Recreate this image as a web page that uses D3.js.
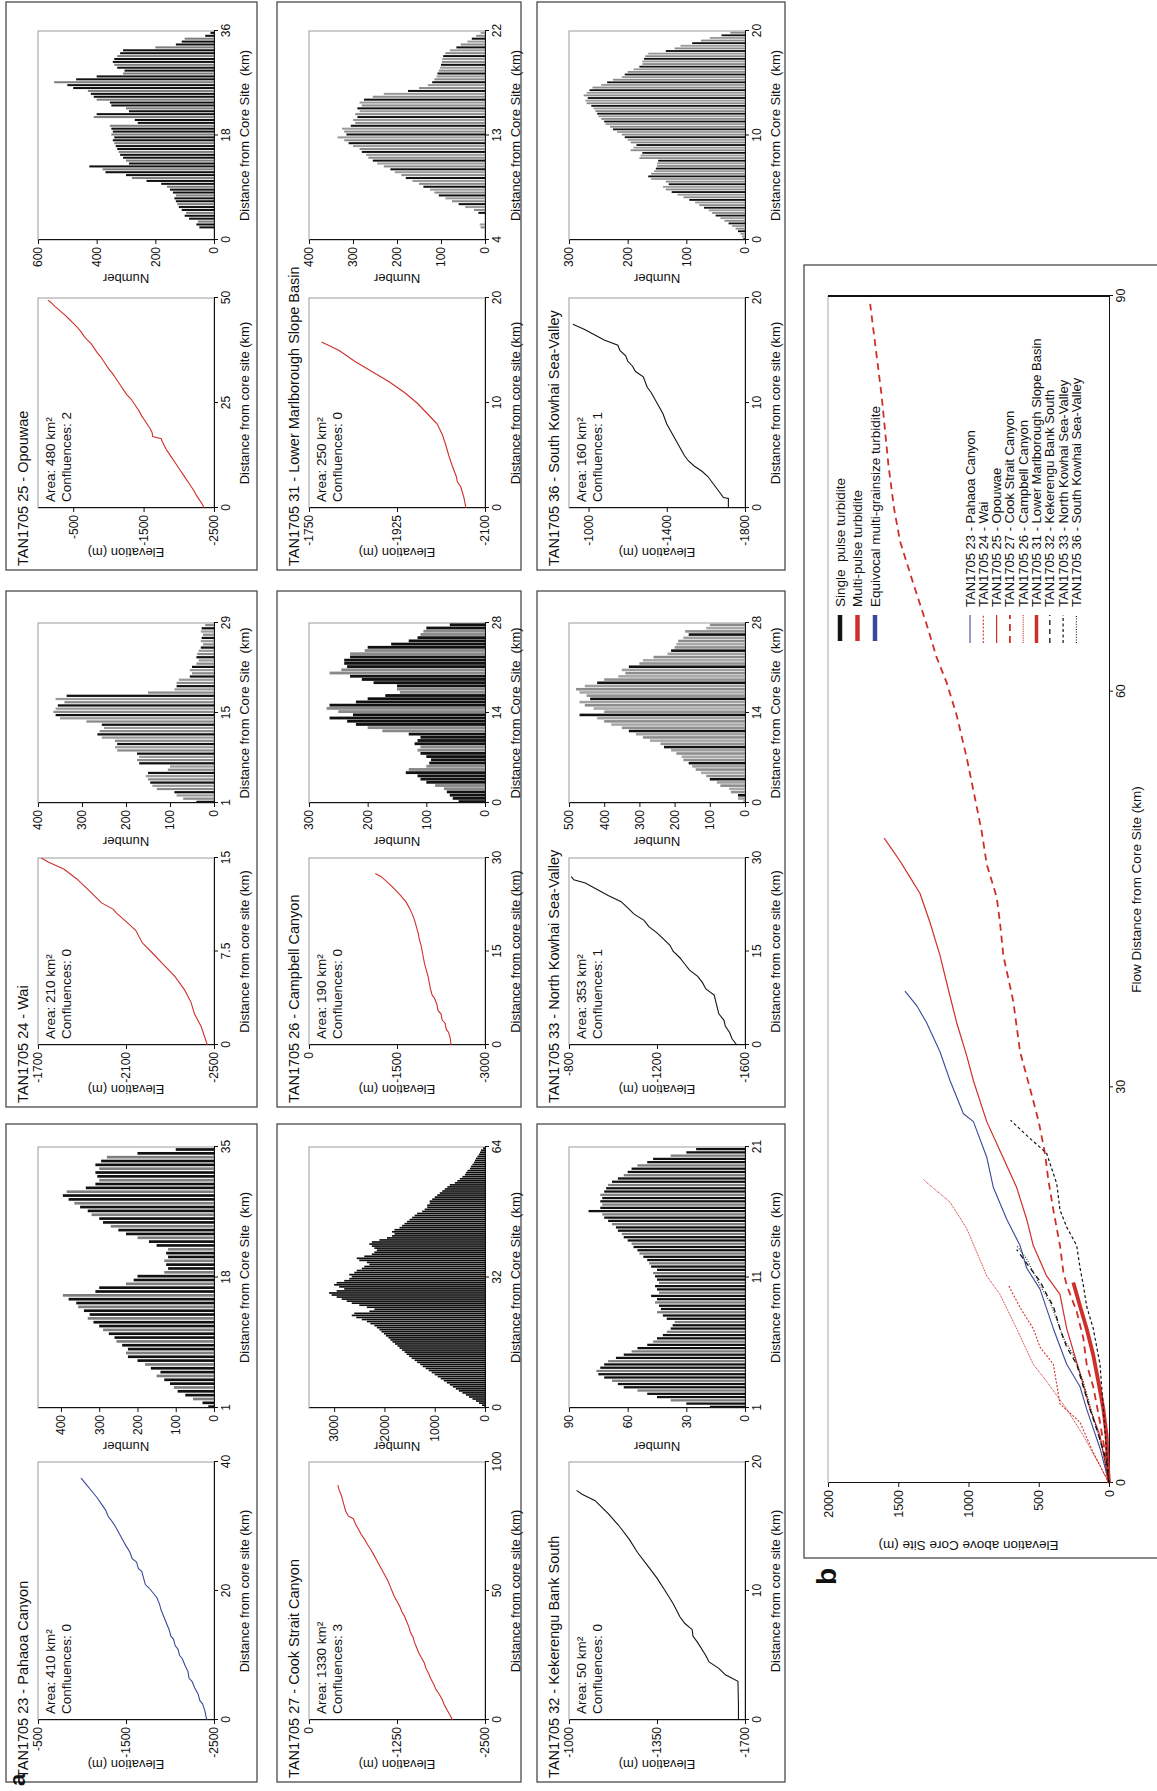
<!DOCTYPE html>
<html><head><meta charset="utf-8">
<script src="https://cdn.jsdelivr.net/npm/d3@7"></script>
<style>
html,body{margin:0;padding:0;background:#fff;}
svg{display:block;}
</style></head><body>
<svg id="fig" width="1157" height="1791"></svg>
<script>
// ---------------- panel a: long profiles [distance km, elevation m] ----------------
const pahaoaProfile = [[0,-2420],[0.5,-2410],[1.5,-2395],[2.5,-2370],[3,-2340],[4,-2320],[5,-2280],[6,-2250],[6.5,-2215],[7.5,-2205],[8.5,-2170],[9.5,-2140],[10,-2110],[11,-2090],[11.5,-2060],[12.5,-2040],[13,-2010],[14,-1990],[15,-1960],[16,-1930],[17,-1900],[18,-1880],[19,-1850],[19.5,-1820],[20.5,-1760],[21,-1720],[22,-1700],[23,-1680],[23.5,-1640],[24.5,-1620],[25,-1570],[26,-1545],[27,-1500],[28,-1460],[29,-1420],[30,-1380],[31,-1330],[31.5,-1300],[32.5,-1270],[33.5,-1220],[34.5,-1170],[35.5,-1110],[36.5,-1050],[37.5,-990]];
const waiProfile = [[0,-2470],[1.5,-2441],[2.5,-2411],[3.4,-2396],[4.4,-2367],[5.5,-2322],[6.3,-2278],[7.4,-2219],[8.2,-2174],[9.2,-2144],[9.8,-2107],[10.6,-2056],[10.9,-2041],[11.4,-1989],[12.3,-1937],[13.3,-1878],[14.1,-1819],[14.7,-1744],[15,-1715]];
const opouwaeProfile = [[0,-2360],[1,-2330],[2,-2290],[3,-2250],[4,-2220],[5,-2180],[6,-2140],[7,-2100],[8,-2060],[9,-2020],[10,-1980],[11,-1940],[12,-1900],[13,-1860],[14,-1820],[15,-1790],[16,-1760],[16.5,-1750],[17,-1630],[18,-1620],[19,-1590],[20,-1550],[21,-1510],[22,-1470],[23,-1440],[24,-1400],[25,-1360],[26,-1320],[27,-1260],[28,-1220],[29,-1180],[30,-1140],[31,-1100],[32,-1060],[33,-1010],[34,-970],[35,-930],[36,-890],[37,-840],[38,-800],[39,-760],[40,-700],[41,-650],[42,-610],[43,-560],[44,-500],[45,-440],[46,-380],[47,-310],[48,-240],[49,-180],[49.5,-140]];
const cookProfile = [[0,-2040],[2,-2000],[4,-1960],[6,-1920],[8,-1890],[10,-1850],[12,-1800],[14,-1770],[16,-1730],[18,-1700],[20,-1660],[22,-1640],[24,-1600],[26,-1560],[28,-1530],[30,-1500],[32,-1480],[34,-1440],[36,-1420],[38,-1390],[40,-1360],[42,-1320],[44,-1290],[46,-1250],[48,-1210],[50,-1180],[52,-1150],[54,-1120],[56,-1080],[58,-1040],[60,-1000],[62,-960],[64,-920],[66,-880],[68,-830],[70,-790],[72,-740],[74,-700],[76,-660],[78,-630],[79,-560],[81,-520],[83,-500],[85,-480],[87,-460],[89,-430],[91,-410]];
const campbellProfile = [[0,-2420],[1,-2410],[2,-2380],[2.5,-2340],[3.5,-2320],[4,-2270],[5,-2250],[5.5,-2200],[6.5,-2180],[7.5,-2140],[8,-2100],[9,-2070],[10,-2050],[11,-2030],[12,-2000],[13,-1970],[14,-1950],[15,-1930],[16,-1910],[17,-1880],[18,-1860],[19,-1830],[20,-1800],[21,-1760],[22,-1710],[23,-1650],[24,-1560],[25,-1460],[26,-1350],[27,-1230],[27.5,-1130]];
const lowerMarlProfile = [[0,-2062],[1,-2058],[2,-2052],[2.5,-2045],[3,-2043],[4,-2035],[5,-2028],[6,-2022],[7,-2015],[8,-2005],[8.5,-1995],[9,-1985],[10,-1965],[11,-1940],[12,-1910],[13,-1875],[14,-1840],[15,-1810],[15.8,-1775]];
const kekerenguProfile = [[0,-1674],[1,-1674],[2,-1673],[3,-1672],[3.5,-1622],[4,-1596],[4.5,-1557],[5,-1544],[6,-1512],[6.5,-1493],[7,-1490],[7.5,-1460],[8,-1441],[9,-1415],[10,-1383],[11,-1350],[12,-1311],[13,-1272],[14,-1240],[15,-1201],[16,-1156],[17,-1104],[17.5,-1052],[17.8,-1030]];
const northKowhaiProfile = [[0,-1563],[1,-1541],[2,-1530],[3,-1511],[4,-1504],[5,-1481],[6,-1474],[7,-1467],[8,-1460],[9,-1422],[10,-1407],[11,-1385],[12,-1348],[13,-1326],[14,-1304],[15,-1274],[16,-1259],[17,-1230],[18,-1200],[19,-1163],[20,-1141],[21,-1096],[22,-1067],[23,-1037],[24,-978],[25,-926],[26,-874],[26.5,-822],[27,-810]];
const southKowhaiProfile = [[0,-1715],[0.9,-1715],[1,-1690],[2,-1650],[3,-1610],[3.5,-1580],[4,-1540],[4.5,-1510],[5,-1490],[6,-1460],[6.5,-1445],[7,-1430],[8,-1400],[9,-1380],[10,-1350],[11,-1320],[11.5,-1300],[12,-1290],[12.5,-1280],[13,-1240],[13.5,-1225],[14,-1200],[14.5,-1190],[15,-1160],[15.5,-1150],[16,-1080],[16.5,-1030],[17,-980],[17.5,-920]];

// ---------------- panel a: histogram counts per distance bin ----------------
const pahaoaCounts = [15,30,55,75,95,105,115,130,150,140,165,180,200,225,230,225,240,255,260,275,290,300,315,330,325,340,355,360,380,395,310,300,230,210,200,130,120,125,130,120,125,120,150,170,200,230,250,270,290,300,320,330,350,365,380,395,385,335,310,300,305,310,300,310,295,280,200,100];
const waiCounts = [40,70,85,90,130,140,145,150,155,150,105,100,170,175,170,175,220,225,220,225,255,265,260,250,255,290,350,360,365,360,355,340,360,335,150,90,85,85,80,55,50,55,50,40,35,40,38,35,30,25,30,28,25,30,28,20];
const opouwaeCounts = [50,60,55,85,100,95,110,120,125,130,135,130,140,150,160,180,230,280,300,370,380,425,290,300,310,320,325,330,335,340,345,340,350,345,350,355,260,270,410,400,290,300,350,355,400,410,420,430,480,500,545,470,400,310,305,330,340,345,340,330,320,310,200,130,110,100,30,12];
const cookCounts = [20,60,120,180,250,320,380,450,520,580,640,700,760,820,880,940,1000,1060,1120,1180,
  1240,1290,1350,1400,1460,1510,1560,1600,1650,1700,1740,1790,1840,1880,1920,1970,2010,2060,2100,2150,
  2200,2280,2350,2450,2560,2650,2600,2300,2200,2350,2500,2650,2750,2850,2950,3050,3100,2950,2800,2900,
  3000,2950,2800,2700,2650,2700,2600,2550,2450,2400,2300,2350,2500,2550,2400,2250,2200,2150,2200,2250,
  2300,2250,2100,1950,1850,1800,1850,1800,1700,1650,1600,1550,1500,1450,1400,1350,1250,1200,1150,1150,
  1100,1100,1050,1000,950,900,850,800,750,700,600,550,500,450,400,380,350,300,280,250,
  220,200,180,150,120,100,80,40];
const campbellCounts = [45,55,60,65,70,85,100,110,115,135,130,100,95,92,100,110,115,110,120,115,110,130,175,200,220,235,265,225,250,270,265,220,200,170,145,150,150,190,210,230,265,245,235,240,240,230,230,205,200,160,130,115,110,105,100,60];
const lowerMarlCounts = [0,0,0,0, 10,12,0,0, 0,15,25,45, 60,75,90,105, 115,125,140,150, 165,180,190,205, 215,230,245,255, 265,270,280,285, 300,310,320,335, 315,320,325,305, 295,300,290,295, 285,290,280,285, 275,255,230,175, 150,130,120,115, 110,108,105,102, 100,98,97,95, 90,80,65,55, 40,30,20,10];
const kekerenguCounts = [18,30,38,45, 50,55,62,65, 68,72,75,76, 74,72,70,66, 62,58,55,50, 47,45,42,40, 38,37,36,40, 42,45,43,44, 46,45,48,44, 45,46,44,45, 46,47,45,48, 49,50,52,54, 55,57,58,60, 62,63,65,66, 68,70,72,73, 80,74,73,74, 73,74,72,71, 70,68,65,62, 60,58,55,50, 47,38,30,25];
const northKowhaiCounts = [5,20,20,40,45,70,80,100,110,125,140,150,160,175,180,195,210,230,240,270,290,310,330,350,380,400,420,470,400,430,455,470,440,450,470,480,455,420,400,360,340,350,330,300,290,260,220,210,200,195,190,175,160,170,110,100];
const southKowhaiCounts = [3,5,8,12, 16,22,28,35, 42,50,56,62, 70,78,85,95, 105,115,125,135, 140,130,135,160, 165,160,155,152, 150,150,148,180, 178,175,195,190, 185,195,200,205, 210,218,225,230, 238,240,245,250, 252,255,258,262, 270,272,268,275, 270,265,260,245, 235,225,210,205, 200,190,180,175, 175,172,170,165, 135,120,110,90, 75,60,40,25];

// ---------------- panel b: elevation above core site [flow distance km, m] ----------------
const pahaoaFlow = [[0,0],[2.5,60],[5.6,159],[7.3,206],[9,301],[11.7,396],[14.7,491],[16.3,586],[18,633],[20,728],[22.4,823],[24.7,870],[27.4,965],[28,1036],[30.5,1131],[32.7,1203],[34.9,1298],[36.2,1369],[37.3,1452]];
const waiFlow = [[0,0],[2.3,112],[4.6,206],[6,349],[9,396],[10.3,491],[11.7,539],[13.3,633],[15,716]];
const opouwaeFlow = [[0,0],[3.6,64],[5.6,135],[8.3,206],[11.7,301],[14.3,349],[15.7,444],[18,539],[20,586],[22.4,657],[25.2,776],[27.4,870],[30.5,965],[32.4,1013],[34.9,1084],[37.4,1143],[40,1203],[42.5,1274],[44.7,1345],[46,1420],[47.2,1490],[48.9,1600]];
const cookFlow = [[0,0],[2.3,28],[4.6,64],[7.3,112],[9,159],[11,183],[13,230],[15,301],[16,325],[18,349],[20.7,396],[23,432],[25,456],[27.4,500],[29.9,562],[32.7,633],[36.5,681],[40,752],[42.5,776],[44.4,799],[46.9,870],[49.4,906],[52.5,965],[55,1013],[58.2,1084],[60.7,1156],[62.6,1227],[65.1,1298],[68.2,1393],[71.4,1487],[73.9,1530],[77.2,1570],[82.6,1620],[86,1660],[89.4,1700]];
const campbellFlow = [[0,0],[1.3,64],[3.6,183],[5.6,301],[7.7,444],[9,539],[11.7,657],[14.3,776],[15.7,870],[19.3,1013],[21.3,1132],[23,1321]];
const lowerMarlFlow = [[0,0],[1.6,10],[3.6,17],[5.6,40],[7.7,76],[9.7,112],[11.7,159],[13.4,206],[15.2,254]];
const kekerenguFlow = [[0,0],[1.6,17],[3.3,64],[5.6,135],[7.3,183],[9,230],[10.3,301],[11.7,349],[13.4,396],[14.3,444],[15.3,491],[16.3,562],[17,610],[17.7,657]];
const northKowhaiFlow = [[0,0],[2.3,17],[5.6,40],[9,64],[11.7,112],[13.4,159],[15,183],[16.3,206],[18,230],[19.4,301],[20.7,349],[22.7,372],[25,444],[26.3,580],[27.5,700]];
const southKowhaiFlow = [[0,0],[2.3,40],[5,112],[7.7,183],[9.7,254],[11,325],[12.4,372],[13.7,420],[15,491],[16,539],[17,586],[18,657]];

const bXTicks = [0, 30, 60, 90];
const bYTicks = [0, 500, 1000, 1500, 2000];
const typeLabels = ["Single  pulse turbidite", "Multi-pulse turbidite", "Equivocal multi-grainsize turbidite"];

// ---------------- styling ----------------
const FONT = '"Liberation Sans", Arial, sans-serif';
const BLUE = "#3b4899", RED = "#cf2f2b", BLACK = "#141414";
const typeColors = [BLACK, RED, BLUE];
const TONES_BLACK = ["#0d0d0d"];
const TONES_DARK = ["#111", "#111", "#7e7e7e"];
const TONES_MIX = ["#111", "#8a8a8a", "#9a9a9a"];
const TONES_GREY = ["#8c8c8c", "#a0a0a0", "#111", "#909090", "#a8a8a8"];

// landscape layout: rows are ly ranges, cols give lx ranges of the box, profile and histogram frames
const rows = [[6, 257], [277, 521], [537, 785]];
const cols = [
  {box: [9, 667], elev: [71, 329], hist: [383, 644]},
  {box: [684, 1200], elev: [746, 933], hist: [988, 1168]},
  {box: [1221, 1789], elev: [1283, 1493], hist: [1551, 1760]}
];

const panels = [
  {row:0, col:0, title:"TAN1705 23 - Pahaoa Canyon", area:"410", conf:"0", color:BLUE, profile:pahaoaProfile,
   ex:[0,40], exT:[0,20,40], ey:[-2500,-500], eyT:[-2500,-1500,-500],
   counts:pahaoaCounts, hStart:1, hBin:0.5, hx:[1,35], hxT:[1,18,35], hy:[0,460], hyT:[0,100,200,300,400], tones:TONES_DARK, gap:0.3},
  {row:0, col:1, title:"TAN1705 24 - Wai", area:"210", conf:"0", color:RED, profile:waiProfile,
   ex:[0,15], exT:[0,7.5,15], ey:[-2500,-1700], eyT:[-2500,-2100,-1700],
   counts:waiCounts, hStart:1, hBin:0.5, hx:[1,29], hxT:[1,15,29], hy:[0,400], hyT:[0,100,200,300,400], tones:TONES_MIX, gap:0.3},
  {row:0, col:2, title:"TAN1705 25 - Opouwae", area:"480", conf:"2", color:RED, profile:opouwaeProfile,
   ex:[0,50], exT:[0,25,50], ey:[-2500,0], eyT:[-2500,-1500,-500],
   counts:opouwaeCounts, hStart:2, hBin:0.5, hx:[0,36], hxT:[0,18,36], hy:[0,600], hyT:[0,200,400,600], tones:TONES_DARK, gap:0.3},
  {row:1, col:0, title:"TAN1705 27 - Cook Strait Canyon", area:"1330", conf:"3", color:RED, profile:cookProfile,
   ex:[0,100], exT:[0,50,100], ey:[-2500,0], eyT:[-2500,-1250,0],
   counts:cookCounts, hStart:0, hBin:0.5, hx:[0,64], hxT:[0,32,64], hy:[0,3500], hyT:[0,1000,2000,3000], tones:TONES_BLACK, gap:0.18},
  {row:1, col:1, title:"TAN1705 26 - Campbell Canyon", area:"190", conf:"0", color:RED, profile:campbellProfile,
   ex:[0,30], exT:[0,15,30], ey:[-3000,0], eyT:[-3000,-1500,0],
   counts:campbellCounts, hStart:0, hBin:0.5, hx:[0,28], hxT:[0,14,28], hy:[0,300], hyT:[0,100,200,300], tones:["#111","#111","#111","#111","#8a8a8a","#8a8a8a"], gap:0.12},
  {row:1, col:2, title:"TAN1705 31 - Lower Marlborough Slope Basin", area:"250", conf:"0", color:RED, profile:lowerMarlProfile,
   ex:[0,20], exT:[0,10,20], ey:[-2100,-1750], eyT:[-2100,-1925,-1750],
   counts:lowerMarlCounts, hStart:4, hBin:0.25, hx:[4,22], hxT:[4,13,22], hy:[0,400], hyT:[0,100,200,300,400], tones:TONES_MIX, gap:0.3},
  {row:2, col:0, title:"TAN1705 32 - Kekerengu Bank South", area:"50", conf:"0", color:BLACK, profile:kekerenguProfile,
   ex:[0,20], exT:[0,10,20], ey:[-1700,-1000], eyT:[-1700,-1350,-1000],
   counts:kekerenguCounts, hStart:1, hBin:0.25, hx:[1,21], hxT:[1,11,21], hy:[0,90], hyT:[0,30,60,90], tones:TONES_DARK, gap:0.3},
  {row:2, col:1, title:"TAN1705 33 - North Kowhai Sea-Valley", area:"353", conf:"1", color:BLACK, profile:northKowhaiProfile,
   ex:[0,30], exT:[0,15,30], ey:[-1600,-800], eyT:[-1600,-1200,-800],
   counts:northKowhaiCounts, hStart:0, hBin:0.5, hx:[0,28], hxT:[0,14,28], hy:[0,500], hyT:[0,100,200,300,400,500], tones:TONES_GREY, gap:0.2},
  {row:2, col:2, title:"TAN1705 36 - South Kowhai Sea-Valley", area:"160", conf:"1", color:BLACK, profile:southKowhaiProfile,
   ex:[0,20], exT:[0,10,20], ey:[-1800,-900], eyT:[-1800,-1400,-1000],
   counts:southKowhaiCounts, hStart:0, hBin:0.25, hx:[0,20], hxT:[0,10,20], hy:[0,300], hyT:[0,100,200,300], tones:TONES_MIX, gap:0.3}
];

const flowSeries = [
  {label:"TAN1705 23 - Pahaoa Canyon", data:pahaoaFlow, color:BLUE, width:1.1, dash:null},
  {label:"TAN1705 24 - Wai", data:waiFlow, color:RED, width:1.1, dash:"2,1.6"},
  {label:"TAN1705 25 - Opouwae", data:opouwaeFlow, color:RED, width:1.2, dash:null},
  {label:"TAN1705 27 - Cook Strait Canyon", data:cookFlow, color:RED, width:1.8, dash:"7,5"},
  {label:"TAN1705 26 - Campbell Canyon", data:campbellFlow, color:RED, width:1, dash:"1,0.8"},
  {label:"TAN1705 31 - Lower Marlborough Slope Basin", data:lowerMarlFlow, color:RED, width:3.8, dash:null},
  {label:"TAN1705 32 - Kekerengu Bank South", data:kekerenguFlow, color:BLACK, width:1.3, dash:"5,4"},
  {label:"TAN1705 33 - North Kowhai Sea-Valley", data:northKowhaiFlow, color:BLACK, width:1.2, dash:"3,2.5"},
  {label:"TAN1705 36 - South Kowhai Sea-Valley", data:southKowhaiFlow, color:BLACK, width:1.1, dash:"1,1.6"}
];

// ---------------- drawing ----------------
const fmt = d => String(d);
const svg = d3.select("#fig");
svg.append("rect").attr("width", 1157).attr("height", 1791).attr("fill", "#fff");
// the figure is laid out in landscape and turned a quarter turn anticlockwise
const g = svg.append("g").attr("transform", "translate(0,1791) rotate(-90)")
  .attr("font-family", FONT).attr("fill", "#111");

function styleAxis(sel, fs) {
  sel.attr("font-family", FONT).attr("font-size", fs);
  sel.select(".domain").attr("stroke", "#111").attr("stroke-width", 1);
  sel.selectAll(".tick line").attr("stroke", "#111");
  sel.selectAll(".tick text").attr("fill", "#111");
}
function frame(sel, x0, y0, x1, y1) {
  sel.append("rect").attr("x", x0).attr("y", y0).attr("width", x1 - x0).attr("height", y1 - y0)
    .attr("fill", "none").attr("stroke", "#9c9c9c").attr("stroke-width", 1);
}

function drawPanel(p) {
  const c = cols[p.col], r = rows[p.row];
  const top = r[0] + 32, bot = r[0] + 208;
  const gp = g.append("g");
  gp.append("rect").attr("x", c.box[0]).attr("y", r[0]).attr("width", c.box[1] - c.box[0])
    .attr("height", r[1] - r[0]).attr("fill", "none").attr("stroke", "#4a4a4a").attr("stroke-width", 1.3);
  gp.append("text").attr("x", c.box[0] + 4).attr("y", r[0] + 22).attr("font-size", 14.5).text(p.title);

  // long profile
  const ex = d3.scaleLinear().domain(p.ex).range(c.elev);
  const ey = d3.scaleLinear().domain(p.ey).range([bot, top]);
  frame(gp, c.elev[0], top, c.elev[1], bot);
  gp.append("g").attr("transform", `translate(0,${bot})`)
    .call(d3.axisBottom(ex).tickValues(p.exT).tickFormat(fmt).tickSize(4).tickSizeOuter(0)).call(styleAxis, 12);
  gp.append("g").attr("transform", `translate(${c.elev[0]},0)`)
    .call(d3.axisLeft(ey).tickValues(p.eyT).tickFormat(fmt).tickSize(4).tickSizeOuter(0)).call(styleAxis, 12);
  gp.append("path").datum(p.profile)
    .attr("d", d3.line().x(d => ex(d[0])).y(d => ey(d[1])))
    .attr("fill", "none").attr("stroke", p.color).attr("stroke-width", 1.1);
  gp.append("text").attr("x", c.elev[0] + 6).attr("y", top + 17).attr("font-size", 13.5)
    .text(`Area: ${p.area} km²`);
  gp.append("text").attr("x", c.elev[0] + 6).attr("y", top + 33).attr("font-size", 13.5)
    .text(`Confluences: ${p.conf}`);
  gp.append("text").attr("x", (c.elev[0] + c.elev[1]) / 2).attr("y", bot + 35).attr("text-anchor", "middle")
    .attr("font-size", 13).text("Distance from core site (km)");
  gp.append("text").attr("transform", `translate(${c.elev[0] - 40},${(top + bot) / 2}) rotate(-90)`)
    .attr("text-anchor", "middle").attr("font-size", 13).text("Elevation (m)");

  // histogram of distances
  const hx = d3.scaleLinear().domain(p.hx).range(c.hist);
  const hy = d3.scaleLinear().domain(p.hy).range([bot, top]);
  frame(gp, c.hist[0], top, c.hist[1], bot);
  const pitch = hx(p.hx[0] + p.hBin) - hx(p.hx[0]);
  gp.append("g").selectAll("rect").data(p.counts).join("rect")
    .attr("x", (d, i) => hx(p.hStart + i * p.hBin))
    .attr("width", Math.max(0.5, pitch * (1 - p.gap)))
    .attr("y", d => hy(d))
    .attr("height", d => bot - hy(d))
    .attr("fill", (d, i) => p.tones[i % p.tones.length]);
  gp.append("g").attr("transform", `translate(0,${bot})`)
    .call(d3.axisBottom(hx).tickValues(p.hxT).tickFormat(fmt).tickSize(4).tickSizeOuter(0)).call(styleAxis, 12);
  gp.append("g").attr("transform", `translate(${c.hist[0]},0)`)
    .call(d3.axisLeft(hy).tickValues(p.hyT).tickFormat(fmt).tickSize(4).tickSizeOuter(0)).call(styleAxis, 12);
  gp.append("text").attr("x", (c.hist[0] + c.hist[1]) / 2).attr("y", bot + 35).attr("text-anchor", "middle")
    .attr("font-size", 13).style("white-space", "pre").text("Distance from Core Site  (km)");
  gp.append("text").attr("transform", `translate(${c.hist[0] - 34},${(top + bot) / 2}) rotate(-90)`)
    .attr("text-anchor", "middle").attr("font-size", 13).text("Number");
}
panels.forEach(drawPanel);

g.append("text").attr("x", 5).attr("y", 25).attr("font-size", 22).attr("font-weight", "bold").text("a");

// ---------------- panel b ----------------
const gb = g.append("g");
gb.append("rect").attr("x", 233).attr("y", 804).attr("width", 1293).attr("height", 420)
  .attr("fill", "none").attr("stroke", "#4a4a4a").attr("stroke-width", 1.3);
gb.append("text").attr("x", 206).attr("y", 836).attr("font-size", 28).attr("font-weight", "bold").text("b");

const bx = d3.scaleLinear().domain([0, 90]).range([308, 1495]);
const by = d3.scaleLinear().domain([0, 2000]).range([1109, 828]);
gb.append("line").attr("x1", bx(0)).attr("x2", bx(90)).attr("y1", by(2000)).attr("y2", by(2000))
  .attr("stroke", "#a8a8a8").attr("stroke-width", 1);
gb.append("line").attr("x1", bx(90)).attr("x2", bx(90)).attr("y1", by(2000)).attr("y2", by(0))
  .attr("stroke", "#111").attr("stroke-width", 2.2);
gb.append("g").attr("transform", `translate(0,${by(0)})`)
  .call(d3.axisBottom(bx).tickValues(bXTicks).tickFormat(fmt).tickSize(4).tickSizeOuter(0)).call(styleAxis, 12.5);
gb.append("g").attr("transform", `translate(${bx(0)},0)`)
  .call(d3.axisLeft(by).tickValues(bYTicks).tickFormat(fmt).tickSize(4).tickSizeOuter(0)).call(styleAxis, 12.5);
gb.append("text").attr("x", (bx(0) + bx(90)) / 2).attr("y", by(0) + 32).attr("text-anchor", "middle")
  .attr("font-size", 13.5).text("Flow Distance from Core Site (km)");
gb.append("text").attr("transform", `translate(${bx(0) - 58},${(by(0) + by(2000)) / 2}) rotate(-90)`)
  .attr("text-anchor", "middle").attr("font-size", 13.5).text("Elevation above Core Site (m)");

const flowLine = d3.line().x(d => bx(d[0])).y(d => by(d[1]));
gb.append("g").selectAll("path").data(flowSeries).join("path")
  .attr("d", s => flowLine(s.data))
  .attr("fill", "none").attr("stroke", s => s.color).attr("stroke-width", s => s.width)
  .attr("stroke-dasharray", s => s.dash).attr("stroke-linejoin", "round");

// legend: turbidite type
const leg1 = gb.append("g").selectAll("g").data(typeLabels).join("g")
  .attr("transform", (d, i) => `translate(1150,${840 + i * 17.5})`);
leg1.append("line").attr("x1", 0).attr("x2", 26).attr("stroke", (d, i) => typeColors[i]).attr("stroke-width", 4.5);
leg1.append("text").attr("x", 34).attr("y", 4.8).attr("font-size", 13.5).style("white-space", "pre").text(d => d);

// legend: catchments
const leg2 = gb.append("g").selectAll("g").data(flowSeries).join("g")
  .attr("transform", (d, i) => `translate(1148,${970 + i * 13.3})`);
leg2.append("line").attr("x1", 0).attr("x2", 28)
  .attr("stroke", s => s.color).attr("stroke-width", s => Math.min(s.width, 3.5)).attr("stroke-dasharray", s => s.dash);
leg2.append("text").attr("x", 36).attr("y", 4.5).attr("font-size", 13).text(s => s.label);
</script>
</body></html>
